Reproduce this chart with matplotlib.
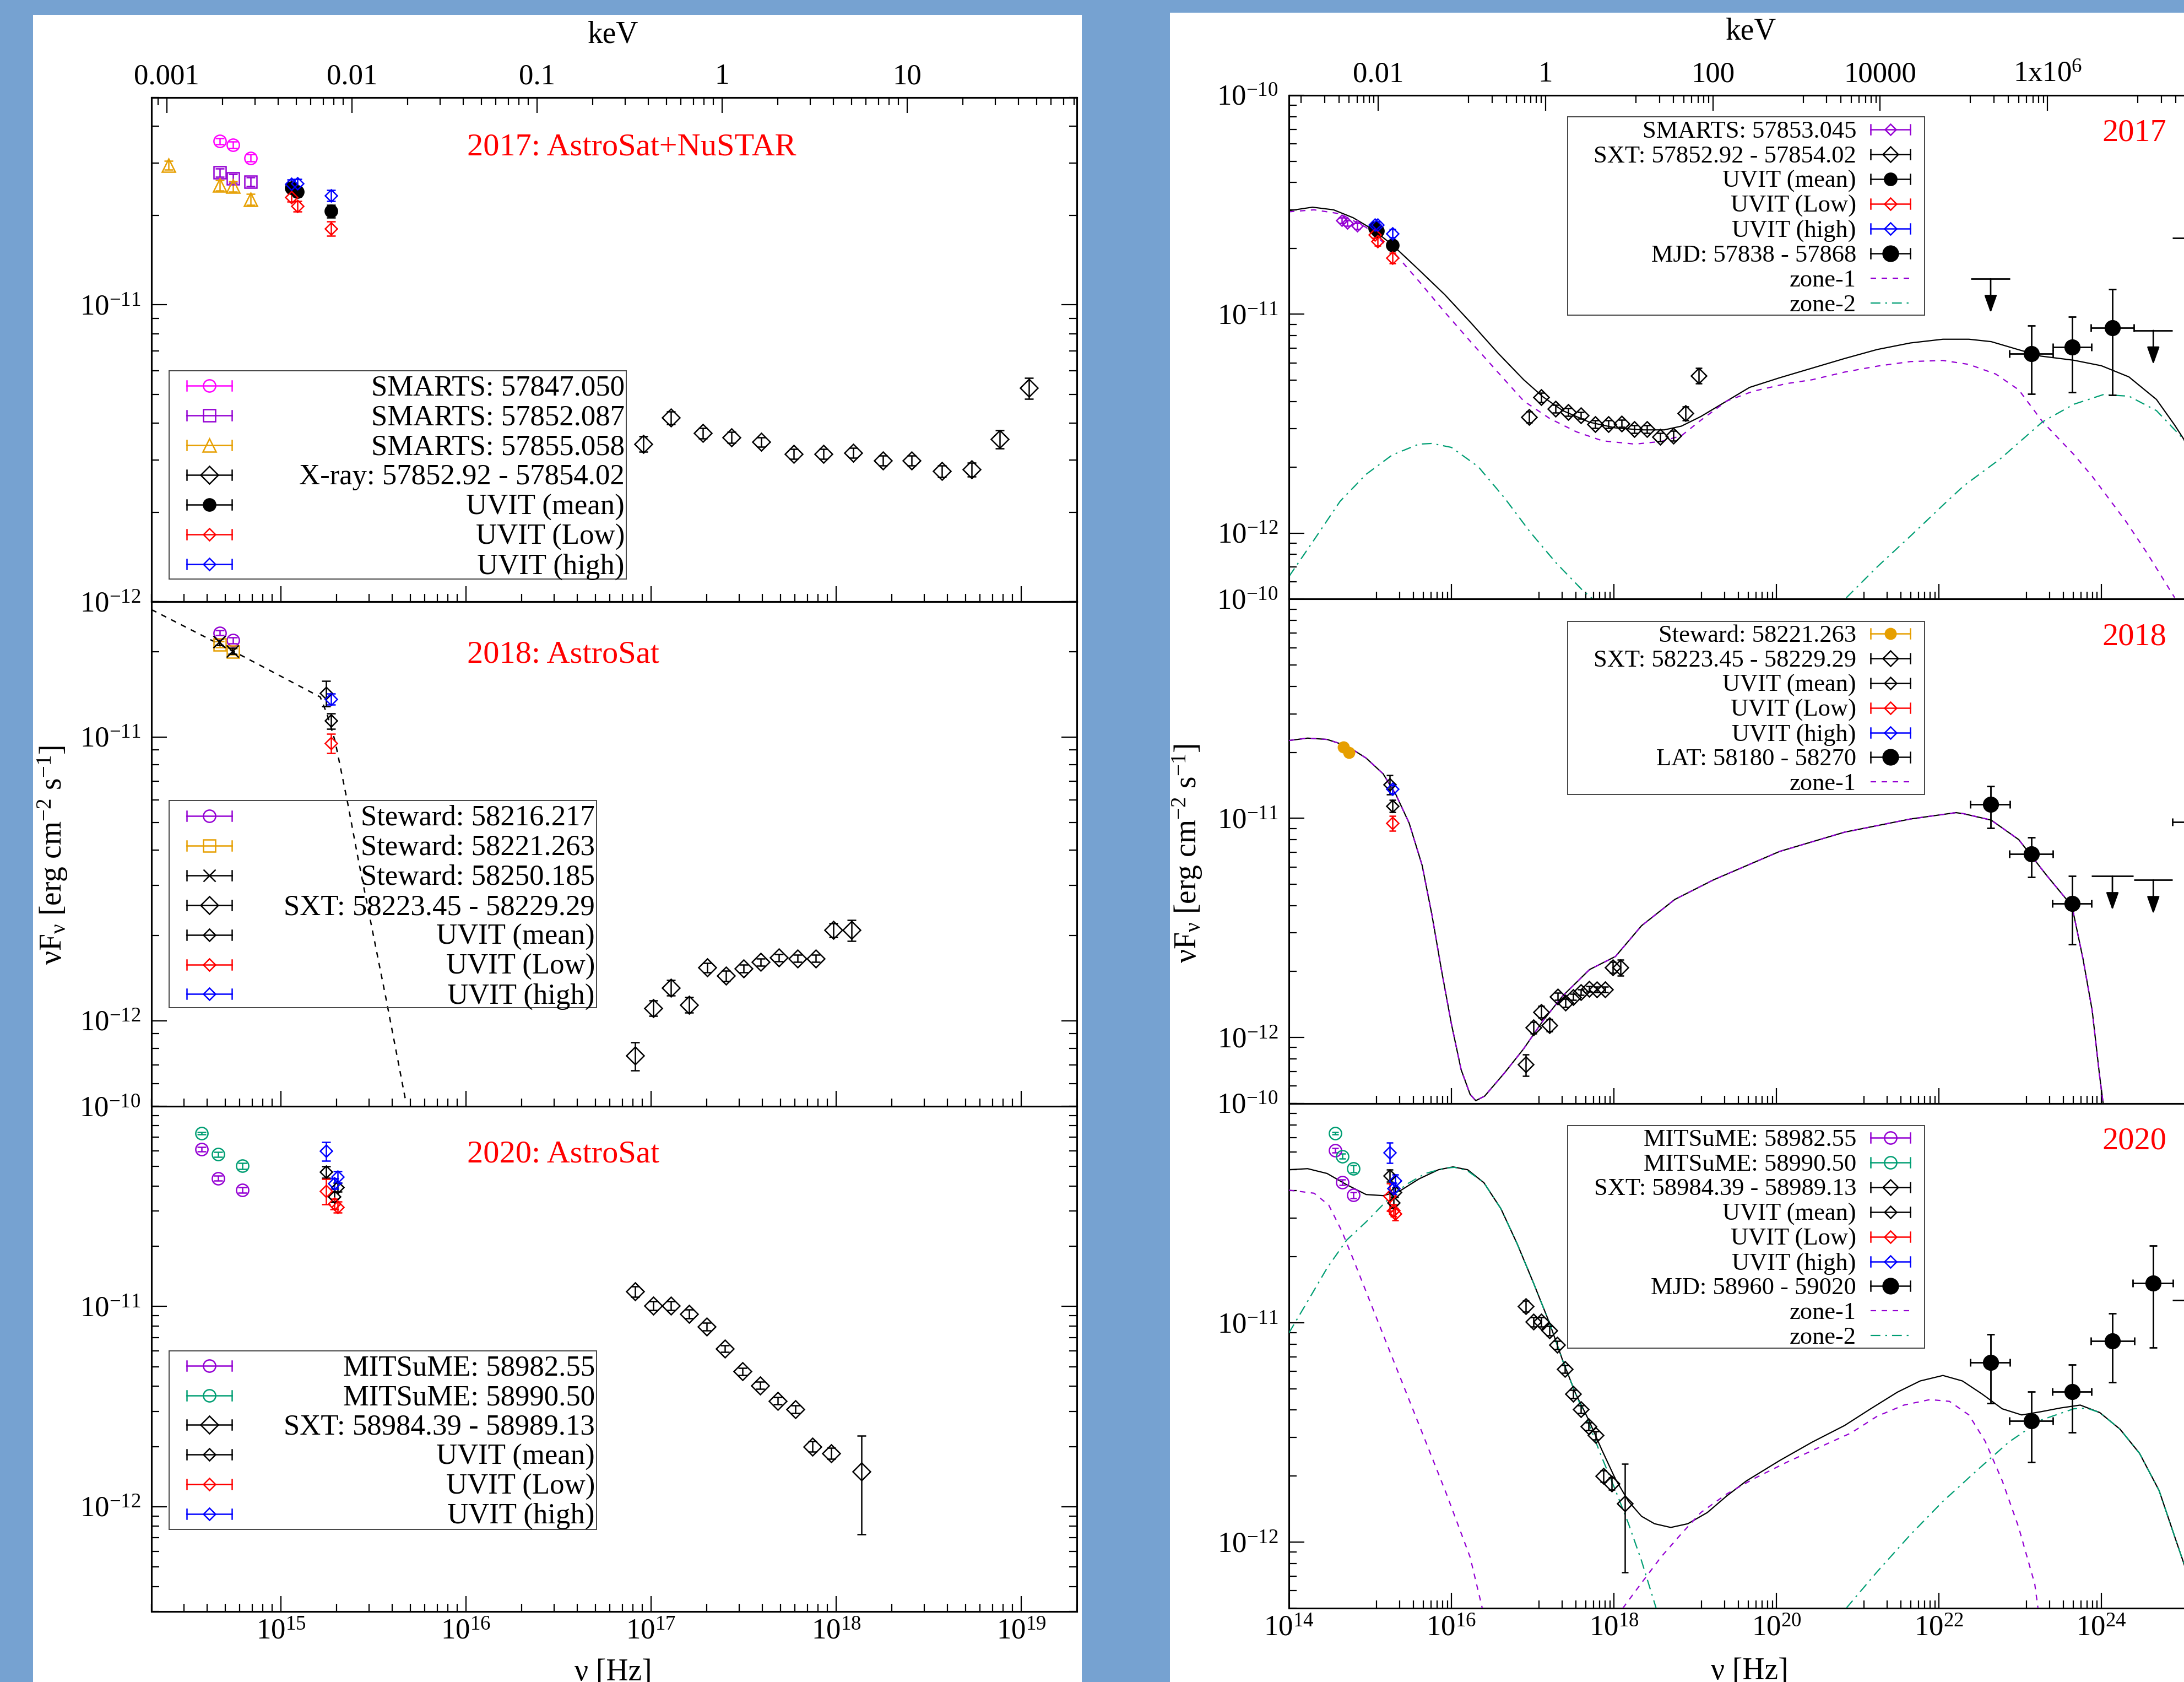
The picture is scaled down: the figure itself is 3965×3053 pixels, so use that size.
import numpy as np
import matplotlib
matplotlib.use('Agg')
import matplotlib.pyplot as plt
from matplotlib.patches import Rectangle
from matplotlib.ticker import (FixedLocator, FixedFormatter, LogLocator,
                               NullFormatter, LogFormatterMathtext)

plt.rcParams['font.family'] = ['Liberation Serif', 'DejaVu Serif']
plt.rcParams['mathtext.fontset'] = 'custom'
plt.rcParams['mathtext.rm'] = 'Liberation Serif'
plt.rcParams['mathtext.it'] = 'Liberation Serif:italic'
plt.rcParams['mathtext.default'] = 'regular'
plt.rcParams['axes.unicode_minus'] = False

W, H = 3965, 3053

# ------------------------------------------------------------ 2017 data
smarts47_nu = [4.69e14, 5.52e14, 6.85e14]
smarts47_f = [3.56e-11, 3.46e-11, 3.13e-11]
smarts47_e = [0.9e-12, 0.9e-12, 0.9e-12]
smarts52_nu = [4.69e14, 5.52e14, 6.85e14]
smarts52_f = [2.79e-11, 2.67e-11, 2.60e-11]
smarts52_e = [0.9e-12, 0.9e-12, 0.9e-12]
smarts55_nu = [2.47e14, 4.69e14, 5.52e14, 6.85e14]
smarts55_f = [2.96e-11, 2.53e-11, 2.51e-11, 2.27e-11]
smarts55_e = [1.0e-12, 1.0e-12, 1.0e-12, 1.0e-12]
smarts53_nu = [4.48e14, 5.23e14, 6.93e14]
smarts53_f = [2.69e-11, 2.61e-11, 2.53e-11]
smarts53_e = [0.8e-12, 0.8e-12, 0.8e-12]

xray17_nu = [9.10e16, 1.28e17, 1.91e17, 2.72e17, 3.95e17, 5.92e17, 8.53e17,
             1.24e18, 1.79e18, 2.56e18, 3.74e18, 5.40e18, 7.66e18, 1.10e19]
xray17_f = [3.40e-12, 4.17e-12, 3.70e-12, 3.58e-12, 3.45e-12, 3.15e-12, 3.15e-12,
            3.17e-12, 2.99e-12, 2.99e-12, 2.75e-12, 2.79e-12, 3.53e-12, 5.25e-12]
xray17_e = [0.20e-12, 0.20e-12, 0.15e-12, 0.15e-12, 0.12e-12, 0.12e-12, 0.12e-12,
            0.12e-12, 0.12e-12, 0.12e-12, 0.12e-12, 0.15e-12, 0.25e-12, 0.42e-12]

uvit17_nu = [1.14e15, 1.23e15, 1.87e15]
uvit17_high = [2.56e-11, 2.57e-11, 2.34e-11]
uvit17_mean = [2.48e-11, 2.41e-11, 2.07e-11]
uvit17_low = [2.31e-11, 2.15e-11, 1.81e-11]
uvit17_e = [0.8e-12, 0.9e-12, 1.0e-12]

lat17_nu = [1.371e23, 4.345e23, 1.368e24]
lat17_lo = [7.41e22, 2.518e23, 7.43e23]
lat17_hi = [2.518e23, 7.52e23, 2.52e24]
lat17_f = [6.62e-12, 7.08e-12, 8.66e-12]
lat17_flo = [4.34e-12, 4.41e-12, 4.27e-12]
lat17_fhi = [8.87e-12, 9.75e-12, 1.30e-11]
ul17_nu = [4.34e22, 4.36e24, 1.30e25]
ul17_lo = [2.48e22, 2.52e24, 7.53e24]
ul17_hi = [7.48e22, 7.53e24, 2.24e25]
ul17_f = [1.45e-11, 8.43e-12, 2.23e-11]

m17_tot_x = [14.0, 14.29, 14.55, 14.79, 15.03, 15.27, 15.60, 15.92, 16.25, 16.57, 16.89,
             17.13, 17.37, 17.70, 18.02, 18.34, 18.62, 18.83, 19.07, 19.39, 19.67, 20.04,
             20.44, 20.84, 21.24, 21.65, 22.05, 22.37, 22.644, 22.983, 23.254, 23.661,
             24.0, 24.339, 24.678, 24.902, 25.017, 25.2, 25.38]
m17_tot_y = [-10.527, -10.511, -10.523, -10.559, -10.612, -10.682, -10.797, -10.911,
             -11.043, -11.176, -11.299, -11.378, -11.440, -11.493, -11.519, -11.528,
             -11.528, -11.511, -11.467, -11.396, -11.334, -11.290, -11.246, -11.202,
             -11.161, -11.131, -11.114, -11.114, -11.125, -11.162, -11.191, -11.210,
             -11.235, -11.286, -11.389, -11.506, -11.572, -11.75, -12.0]
m17_z1_x = [14.0, 14.31, 14.63, 14.95, 15.27, 15.60, 15.92, 16.25, 16.57, 16.89, 17.21,
            17.54, 17.86, 18.26, 18.58, 18.83, 19.07, 19.39, 19.71, 20.12, 20.44, 20.84,
            21.24, 21.65, 22.05, 22.37, 22.70, 22.983, 23.277, 23.66, 23.887, 24.31,
            24.565, 24.902]
m17_z1_y = [-10.532, -10.523, -10.541, -10.603, -10.708, -10.849, -10.991, -11.131,
            -11.264, -11.396, -11.476, -11.537, -11.578, -11.593, -11.581, -11.555,
            -11.484, -11.396, -11.352, -11.317, -11.299, -11.264, -11.237, -11.216,
            -11.211, -11.229, -11.273, -11.345, -11.491, -11.640, -11.740, -11.950,
            -12.092, -12.294]
m17_z2a_x = [14.0, 14.31, 14.63, 14.95, 15.27, 15.60, 15.76, 16.0, 16.33, 16.65, 16.97,
             17.29, 17.61, 17.77]
m17_z2a_y = [-12.198, -12.030, -11.854, -11.731, -11.643, -11.593, -11.590, -11.608,
             -11.696, -11.837, -11.995, -12.136, -12.259, -12.31]
m17_z2b_x = [20.86, 21.24, 21.65, 22.05, 22.305, 22.757, 23.277, 23.661, 24.023, 24.339,
             24.678, 25.017, 25.2, 25.38]
m17_z2b_y = [-12.295, -12.154, -12.013, -11.872, -11.784, -11.660, -11.491, -11.411,
             -11.367, -11.374, -11.440, -11.572, -11.76, -12.03]

# ------------------------------------------------------------ 2018 data
stew16_nu = [4.69e14, 5.52e14]
stew16_f = [2.33e-11, 2.19e-11]
stew16_e = [0.5e-12, 0.5e-12]
stew21_nu = [4.69e14, 5.52e14]
stew21_f = [2.12e-11, 2.00e-11]
stew21_e = [0.5e-12, 0.5e-12]
stew50_nu = [4.65e14, 5.47e14]
stew50_f = [2.16e-11, 2.01e-11]
stew50_e = [0.5e-12, 0.5e-12]

xray18_nu = [8.20e16, 1.03e17, 1.28e17, 1.61e17, 2.02e17, 2.54e17, 3.16e17, 3.92e17,
             4.92e17, 6.18e17, 7.76e17, 9.64e17, 1.21e18]
xray18_f = [7.53e-13, 1.11e-12, 1.31e-12, 1.14e-12, 1.54e-12, 1.44e-12, 1.53e-12,
            1.61e-12, 1.67e-12, 1.66e-12, 1.66e-12, 2.09e-12, 2.09e-12]
xray18_e = [0.085e-12, 0.07e-12, 0.08e-12, 0.07e-12, 0.06e-12, 0.06e-12, 0.05e-12,
            0.05e-12, 0.05e-12, 0.05e-12, 0.05e-12, 0.12e-12, 0.18e-12]

uvit18_mean_nu = [1.75e15, 1.87e15]
uvit18_mean = [1.43e-11, 1.14e-11]
uvit18_mean_e = [1.45e-12, 0.7e-12]
uvit18_nu = [1.87e15]
uvit18_high = [1.36e-11]
uvit18_high_e = [0.6e-12]
uvit18_low = [9.53e-12]
uvit18_low_e = [0.75e-12]

pl18_x = [14.301, 14.797, 15.213, 15.25, 15.293, 15.361, 15.418, 15.494, 15.570, 15.676]
pl18_y = [-10.551, -10.716, -10.859, -10.92, -11.014, -11.232, -11.430, -11.679,
          -11.927, -12.287]

lat18_nu = [4.37e22, 1.371e23, 4.345e23, 1.30e25]
lat18_lo = [2.45e22, 7.41e22, 2.48e23, 7.53e24]
lat18_hi = [7.53e22, 2.535e23, 7.59e23, 2.24e25]
lat18_f = [1.16e-11, 6.86e-12, 4.09e-12, 9.6e-12]
lat18_flo = [9.04e-12, 5.41e-12, 2.67e-12, 6.5e-12]
lat18_fhi = [1.40e-11, 8.17e-12, 5.45e-12, 1.3e-11]
ul18_nu = [1.368e24, 4.36e24]
ul18_lo = [7.52e23, 2.52e24]
ul18_hi = [2.48e24, 7.53e24]
ul18_f = [5.45e-12, 5.23e-12]

m18_x = [14.0, 14.23, 14.47, 14.71, 14.95, 15.16, 15.32, 15.48, 15.64, 15.76, 15.88, 16.0,
         16.12, 16.23, 16.30, 16.41, 16.65, 16.89, 17.13, 17.37, 17.70, 18.02, 18.34,
         18.75, 19.23, 20.04, 20.84, 21.65, 22.21, 22.305, 22.644, 22.983, 23.322,
         23.638, 23.774, 23.887, 23.977, 24.023]
m18_y = [-10.645, -10.634, -10.640, -10.669, -10.725, -10.797, -10.894, -11.022, -11.215,
         -11.440, -11.697, -11.938, -12.147, -12.259, -12.288, -12.267, -12.163, -12.051,
         -11.922, -11.810, -11.690, -11.630, -11.490, -11.370, -11.280, -11.151, -11.063,
         -11.003, -10.974, -10.979, -11.008, -11.097, -11.258, -11.400, -11.641, -11.876,
         -12.170, -12.303]

# ------------------------------------------------------------ 2020 data
mits82_nu = [3.72e14, 4.57e14, 6.19e14]
mits82_f = [6.11e-11, 4.37e-11, 3.82e-11]
mits82_e = [1.5e-12, 1.2e-12, 1.2e-12]
mits90_nu = [3.72e14, 4.57e14, 6.19e14]
mits90_f = [7.33e-11, 5.75e-11, 5.04e-11]
mits90_e = [0.8e-12, 1.5e-12, 1.8e-12]

xray20_nu = [8.20e16, 1.03e17, 1.28e17, 1.61e17, 2.00e17, 2.51e17, 3.13e17, 3.89e17,
             4.84e17, 6.01e17, 7.48e17, 9.40e17, 1.37e18]
xray20_f = [1.19e-11, 1.01e-11, 1.01e-11, 9.2e-12, 7.93e-12, 6.16e-12, 4.74e-12,
            4.04e-12, 3.38e-12, 3.07e-12, 2.00e-12, 1.85e-12, 1.50e-12]
xray20_e = [0.7e-12, 0.5e-12, 0.5e-12, 0.45e-12, 0.35e-12, 0.25e-12, 0.2e-12, 0.17e-12,
            0.14e-12, 0.13e-12, 0.12e-12, 0.12e-12, 0.77e-12]

uvit20_nu = [1.75e15, 1.94e15, 2.03e15]
uvit20_high = [5.98e-11, 4.11e-11, 4.45e-11]
uvit20_high_e = [6.4e-12, 2.5e-12, 3.0e-12]
uvit20_mean = [4.70e-11, 3.53e-11, 3.94e-11]
uvit20_mean_e = [3.0e-12, 2.0e-12, 2.0e-12]
uvit20_low = [3.78e-11, 3.26e-11, 3.14e-11]
uvit20_low_e = [5.5e-12, 2.0e-12, 2.0e-12]

lat20_nu = [4.37e22, 1.371e23, 4.345e23, 1.368e24, 4.36e24]
lat20_lo = [2.45e22, 7.41e22, 2.48e23, 7.40e23, 2.45e24]
lat20_hi = [7.53e22, 2.535e23, 7.59e23, 2.55e24, 7.62e24]
lat20_f = [6.58e-12, 3.57e-12, 4.85e-12, 8.28e-12, 1.52e-11]
lat20_flo = [4.30e-12, 2.31e-12, 3.17e-12, 5.37e-12, 7.73e-12]
lat20_fhi = [8.85e-12, 4.85e-12, 6.44e-12, 1.107e-11, 2.25e-11]
ul20_nu = [1.30e25]
ul20_lo = [7.53e24]
ul20_hi = [2.24e25]
ul20_f = [1.27e-11]

m20_tot_x = [14.0, 14.23, 14.47, 14.71, 14.95, 15.16, 15.36, 15.60, 15.84, 16.02, 16.20,
             16.40, 16.61, 16.81, 17.01, 17.21, 17.37, 17.53, 17.69, 17.85, 18.02, 18.18,
             18.34, 18.50, 18.70, 18.91, 19.15, 19.39, 19.63, 20.04, 20.44, 20.84, 21.16,
             21.49, 21.77, 22.05, 22.29, 22.53, 22.78, 23.02, 23.26, 23.50, 23.74, 23.98,
             24.23, 24.47, 24.71, 24.91, 25.02, 25.2]
m20_tot_y = [-10.302, -10.297, -10.319, -10.370, -10.415, -10.420, -10.400, -10.344,
             -10.302, -10.289, -10.302, -10.361, -10.480, -10.640, -10.818, -11.003,
             -11.172, -11.324, -11.443, -11.578, -11.713, -11.814, -11.882, -11.916,
             -11.933, -11.916, -11.865, -11.789, -11.721, -11.628, -11.544, -11.468,
             -11.392, -11.316, -11.265, -11.240, -11.265, -11.324, -11.392, -11.420,
             -11.405, -11.388, -11.375, -11.409, -11.485, -11.595, -11.764, -11.983,
             -12.102, -12.35]
m20_z1a_x = [14.0, 14.31, 14.49, 14.65, 14.78, 15.07, 15.36, 15.65, 15.94, 16.23, 16.38]
m20_z1a_y = [-10.395, -10.409, -10.463, -10.581, -10.699, -10.970, -11.240, -11.510,
             -11.781, -12.068, -12.301]
m20_z1b_x = [18.11, 18.34, 18.58, 18.82, 19.07, 19.39, 19.71, 20.12, 20.52, 20.92, 21.24,
             21.57, 21.89, 22.13, 22.37, 22.57, 22.78, 22.98, 23.18, 23.22]
m20_z1b_y = [-12.301, -12.186, -12.068, -11.966, -11.865, -11.780, -11.713, -11.637,
             -11.569, -11.502, -11.426, -11.375, -11.350, -11.358, -11.420, -11.540,
             -11.720, -11.930, -12.190, -12.301]
m20_z2a_x = [14.0, 14.23, 14.47, 14.71, 14.95, 15.20, 15.44, 15.68, 15.92, 16.04, 16.20,
             16.40, 16.61, 16.81, 17.01, 17.21, 17.37, 17.53, 17.69, 17.85, 18.02, 18.18,
             18.34, 18.52]
m20_z2a_y = [-11.046, -10.902, -10.750, -10.623, -10.540, -10.445, -10.370, -10.319,
             -10.294, -10.291, -10.307, -10.361, -10.480, -10.640, -10.818, -11.003,
             -11.172, -11.324, -11.460, -11.612, -11.764, -11.916, -12.085, -12.301]
m20_z2b_x = [20.86, 21.24, 21.65, 22.05, 22.45, 22.86, 23.26, 23.66, 23.82, 23.98, 24.23,
             24.47, 24.71, 24.91, 25.02, 25.2]
m20_z2b_y = [-12.301, -12.135, -11.966, -11.814, -11.679, -11.544, -11.443, -11.392,
             -11.389, -11.409, -11.485, -11.595, -11.764, -11.983, -12.102, -12.35]

# ------------------------------------------------------------ styles
PURPLE = '#9400D3'
ORANGE = '#E69F00'
GREEN = '#009E73'
MAGENTA = '#FF00FF'
RED = '#FF0000'
BLUE = '#0000FF'

ST_MAG_O = dict(marker='o', c=MAGENTA, mfc='none', ms=16)
ST_PUR_S = dict(marker='s', c=PURPLE, mfc='none', ms=16)
ST_ORA_T = dict(marker='^', c=ORANGE, mfc='none', ms=17)
ST_PUR_O = dict(marker='o', c=PURPLE, mfc='none', ms=16)
ST_GRN_O = dict(marker='o', c=GREEN, mfc='none', ms=16)
ST_ORA_S = dict(marker='s', c=ORANGE, mfc='none', ms=16)
ST_BLK_X = dict(marker='x', c='k', mfc='none', ms=16)
ST_XRAY = dict(marker='D', c='k', mfc='none', ms=16)
ST_XRAY_R = dict(marker='D', c='k', mfc='none', ms=14)
ST_BLK_DOT = dict(marker='o', c='k', mfc='k', ms=16)
ST_BLK_D = dict(marker='D', c='k', mfc='none', ms=11)
ST_RED_D = dict(marker='D', c=RED, mfc='none', ms=11)
ST_BLU_D = dict(marker='D', c=BLUE, mfc='none', ms=11)
ST_PUR_D = dict(marker='D', c=PURPLE, mfc='none', ms=10)
ST_ORA_DOT = dict(marker='o', c=ORANGE, mfc=ORANGE, ms=14)
ST_LAT = dict(marker='o', c='k', mfc='k', ms=20)
LN_TOT = dict(color='k', lw=1.6, ls='-')
LN_Z1 = dict(color=PURPLE, lw=1.6, ls=(0, (4.5, 4.5)))
LN_Z2 = dict(color=GREEN, lw=1.6, ls=(0, (8, 4, 1.5, 4)))
LN_PL = dict(color='k', lw=1.8, ls=(0, (4, 4)))

# ------------------------------------------------------------ figure
fig = plt.figure(figsize=(W / 100, H / 100), dpi=100, facecolor='#76A2D1')
fig.add_artist(Rectangle((60 / W, 0), (1964 - 60) / W, 1 - 27 / H,
                         transform=fig.transFigure, fc='white', ec='none', zorder=-5))
fig.add_artist(Rectangle((2124 / W, 0), 1.0, 1 - 23 / H,
                         transform=fig.transFigure, fc='white', ec='none', zorder=-5))

AX = {}


def make_ax(xpx, ypx):
    ax = fig.add_axes([xpx[0] / W, 1 - ypx[1] / H, (xpx[1] - xpx[0]) / W,
                       (ypx[1] - ypx[0]) / H])
    AX[ax] = (xpx[0], ypx[0], xpx[1], ypx[1])
    return ax


def style_ax(ax, xlim, ylim, right, labels_bottom):
    ax.set_xscale('log')
    ax.set_yscale('log')
    ax.set_xlim(xlim)
    ax.set_ylim(ylim)
    if right:
        ax.xaxis.set_major_locator(FixedLocator(10.0 ** np.arange(14, 27, 2)))
        ax.xaxis.set_minor_locator(FixedLocator(
            [10.0 ** e * (1 + 11 * j) for e in range(12, 27, 2) for j in range(1, 9)]))
    else:
        ax.xaxis.set_major_locator(LogLocator(base=10, numticks=30))
        ax.xaxis.set_minor_locator(LogLocator(base=10, subs=np.arange(2, 10), numticks=30))
    ax.xaxis.set_major_formatter(LogFormatterMathtext())
    ax.xaxis.set_minor_formatter(NullFormatter())
    ax.yaxis.set_major_locator(LogLocator(base=10, numticks=30))
    ax.yaxis.set_minor_locator(LogLocator(base=10, subs=np.arange(2, 10), numticks=30))
    ax.yaxis.set_minor_formatter(NullFormatter())
    ax.tick_params(which='both', direction='in', top=False, bottom=True, left=True,
                   right=True, width=1.6, labelsize=38)
    ax.tick_params(which='major', length=20)
    ax.tick_params(which='minor', length=10)
    ax.tick_params(axis='y', pad=14)
    ax.tick_params(axis='x', pad=9)
    if not labels_bottom:
        ax.tick_params(labelbottom=False)
    for sp in ax.spines.values():
        sp.set_linewidth(2.2)


def top_kev(ax, lim, major, labels, minor):
    tw = ax.twiny()
    tw.set_xscale('log')
    tw.set_xlim(lim)
    tw.xaxis.set_major_locator(FixedLocator(major))
    tw.xaxis.set_major_formatter(FixedFormatter(labels))
    tw.xaxis.set_minor_locator(minor)
    tw.xaxis.set_minor_formatter(NullFormatter())
    tw.tick_params(which='both', direction='in', top=True, bottom=False, width=1.6,
                   labelsize=38, pad=10)
    tw.tick_params(which='major', length=20)
    tw.tick_params(which='minor', length=10)
    for sp in tw.spines.values():
        sp.set_linewidth(2.2)


def pts(ax, nu, f, err, st, cap=6):
    ax.errorbar(nu, f, yerr=err, fmt=st['marker'], color=st['c'], mfc=st['mfc'],
                mec=st['c'], ms=st['ms'], mew=1.8, elinewidth=1.8, capsize=cap,
                capthick=1.8, zorder=4)


def lat(ax, nu, lo, hi, f, flo, fhi):
    nu, lo, hi = np.array(nu), np.array(lo), np.array(hi)
    f, flo, fhi = np.array(f), np.array(flo), np.array(fhi)
    ax.errorbar(nu, f, xerr=[nu - lo, hi - nu], yerr=[f - flo, fhi - f], fmt='o',
                color='k', ms=ST_LAT['ms'], elinewidth=2.0, capsize=5, capthick=2.0,
                zorder=4)


def ulim(ax, nu, lo, hi, f, drop=0.70):
    ax.hlines(f, lo, hi, color='k', lw=2.0, zorder=4)
    for n, v in zip(nu, f):
        ax.annotate('', xy=(n, v * drop), xytext=(n, v), annotation_clip=False,
                    arrowprops=dict(arrowstyle='-|>,head_length=0.7,head_width=0.25',
                                    color='k', lw=2.0, mutation_scale=28,
                                    shrinkA=0, shrinkB=0), zorder=4)


def curve(ax, lx, ly, ln):
    ax.plot(10.0 ** np.array(lx), 10.0 ** np.array(ly), zorder=3, **ln)


def key(ax, box, row0, step, items, right_side, fs):
    x0a, y0a, x1a, y1a = AX[ax]

    def fx(X):
        return (X - x0a) / (x1a - x0a)

    def fy(Y):
        return (y1a - Y) / (y1a - y0a)

    X0, Y0, X1, Y1 = box
    ax.add_patch(Rectangle((fx(X0), fy(Y1)), fx(X1) - fx(X0), fy(Y0) - fy(Y1),
                           transform=ax.transAxes, fill=False, lw=1.4, ec='#444444',
                           clip_on=False, zorder=6))
    if right_side:
        xa, xb, xt = X1 - 98, X1 - 26, X1 - 124
    else:
        xa, xb, xt = X0 + 32, X0 + 114, X1 - 3
    xm = 0.5 * (xa + xb)
    cap = 9
    base = fs * 1.389 * 0.33
    for i, (label, st) in enumerate(items):
        Y = row0 + i * step
        ax.text(fx(xt), fy(Y + base), label, ha='right', va='baseline', fontsize=fs,
                transform=ax.transAxes, zorder=6)
        if 'ls' in st:
            ax.plot([fx(xa), fx(xb)], [fy(Y), fy(Y)], transform=ax.transAxes,
                    clip_on=False, zorder=6, **st)
            continue
        kw = dict(color=st['c'], lw=1.8, transform=ax.transAxes, clip_on=False, zorder=6)
        ax.plot([fx(xa), fx(xb)], [fy(Y), fy(Y)], **kw)
        ax.plot([fx(xa), fx(xa)], [fy(Y - cap), fy(Y + cap)], **kw)
        ax.plot([fx(xb), fx(xb)], [fy(Y - cap), fy(Y + cap)], **kw)
        ax.plot([fx(xm)], [fy(Y)], marker=st['marker'], color=st['c'], mfc=st['mfc'],
                mec=st['c'], ms=st['ms'], mew=1.8, transform=ax.transAxes,
                clip_on=False, zorder=7)


def title(ax, X, Y, s):
    x0a, y0a, x1a, y1a = AX[ax]
    ax.text((X - x0a) / (x1a - x0a), (y1a - Y) / (y1a - y0a), s, color='red',
            fontsize=42, ha='left', va='baseline', transform=ax.transAxes, zorder=6)


LX = (275, 1955)
LROWS = [(177, 1092), (1092, 2008), (2008, 2925)]
RX = (2340, 4018)
RROWS = [(173, 1087.5), (1087.5, 2003), (2003, 2919)]
LXLIM = (2e14, 2e19)
RXLIM = (1e14, 2.38e25)

# ------------------------------------------------------------ left column
a1 = make_ax(LX, LROWS[0])
style_ax(a1, LXLIM, (1e-12, 5e-11), False, False)
top_kev(a1, (LXLIM[0] / 2.418e17, LXLIM[1] / 2.418e17), [1e-3, 1e-2, 1e-1, 1, 10],
        ['0.001', '0.01', '0.1', '1', '10'],
        LogLocator(base=10, subs=np.arange(2, 10), numticks=30))
pts(a1, smarts47_nu, smarts47_f, smarts47_e, ST_MAG_O)
pts(a1, smarts52_nu, smarts52_f, smarts52_e, ST_PUR_S)
pts(a1, smarts55_nu, smarts55_f, smarts55_e, ST_ORA_T)
pts(a1, xray17_nu, xray17_f, xray17_e, ST_XRAY)
pts(a1, uvit17_nu, uvit17_mean, uvit17_e, ST_BLK_DOT)
pts(a1, uvit17_nu, uvit17_low, uvit17_e, ST_RED_D)
pts(a1, uvit17_nu, uvit17_high, uvit17_e, ST_BLU_D)
title(a1, 848, 281, '2017: AstroSat+NuSTAR')
key(a1, (307, 673, 1137, 1051), 700, 54,
    [('SMARTS: 57847.050', ST_MAG_O), ('SMARTS: 57852.087', ST_PUR_S),
     ('SMARTS: 57855.058', ST_ORA_T), ('X-ray: 57852.92 - 57854.02', ST_XRAY),
     ('UVIT (mean)', ST_BLK_DOT), ('UVIT (Low)', ST_RED_D), ('UVIT (high)', ST_BLU_D)],
    False, 38)

a2 = make_ax(LX, LROWS[1])
style_ax(a2, LXLIM, (5e-13, 3e-11), False, False)
curve(a2, pl18_x, pl18_y, LN_PL)
pts(a2, stew16_nu, stew16_f, stew16_e, ST_PUR_O)
pts(a2, stew21_nu, stew21_f, stew21_e, ST_ORA_S)
pts(a2, stew50_nu, stew50_f, stew50_e, ST_BLK_X)
pts(a2, xray18_nu, xray18_f, xray18_e, ST_XRAY)
pts(a2, uvit18_mean_nu, uvit18_mean, uvit18_mean_e, ST_BLK_D)
pts(a2, uvit18_nu, uvit18_low, uvit18_low_e, ST_RED_D)
pts(a2, uvit18_nu, uvit18_high, uvit18_high_e, ST_BLU_D)
title(a2, 848, 1203, '2018: AstroSat')
key(a2, (307, 1453, 1083, 1829), 1481, 53.9,
    [('Steward: 58216.217', ST_PUR_O), ('Steward: 58221.263', ST_ORA_S),
     ('Steward: 58250.185', ST_BLK_X), ('SXT: 58223.45 - 58229.29', ST_XRAY),
     ('UVIT (mean)', ST_BLK_D), ('UVIT (Low)', ST_RED_D), ('UVIT (high)', ST_BLU_D)],
    False, 38)

a3 = make_ax(LX, LROWS[2])
style_ax(a3, LXLIM, (3e-13, 1e-10), False, True)
pts(a3, mits82_nu, mits82_f, mits82_e, ST_PUR_O)
pts(a3, mits90_nu, mits90_f, mits90_e, ST_GRN_O)
pts(a3, xray20_nu, xray20_f, xray20_e, ST_XRAY)
pts(a3, uvit20_nu, uvit20_mean, uvit20_mean_e, ST_BLK_D)
pts(a3, uvit20_nu, uvit20_low, uvit20_low_e, ST_RED_D)
pts(a3, uvit20_nu, uvit20_high, uvit20_high_e, ST_BLU_D)
title(a3, 848, 2109, '2020: AstroSat')
key(a3, (307, 2452, 1083, 2776), 2479, 53.7,
    [('MITSuME: 58982.55', ST_PUR_O), ('MITSuME: 58990.50', ST_GRN_O),
     ('SXT: 58984.39 - 58989.13', ST_XRAY), ('UVIT (mean)', ST_BLK_D),
     ('UVIT (Low)', ST_RED_D), ('UVIT (high)', ST_BLU_D)],
    False, 38)

# ------------------------------------------------------------ right column
b1 = make_ax(RX, RROWS[0])
style_ax(b1, RXLIM, (5e-13, 1e-10), True, False)
top_kev(b1, (8.59e-4, 9.55e7), [1e-2, 1, 1e2, 1e4, 1e6],
        ['0.01', '1', '100', '10000', '1x10$^{6}$'],
        FixedLocator([10.0 ** e * (1 + 11 * j) for e in range(-4, 9, 2)
                      for j in range(1, 9)]))
curve(b1, m17_tot_x, m17_tot_y, LN_TOT)
curve(b1, m17_z1_x, m17_z1_y, LN_Z1)
curve(b1, m17_z2a_x, m17_z2a_y, LN_Z2)
curve(b1, m17_z2b_x, m17_z2b_y, LN_Z2)
pts(b1, smarts53_nu, smarts53_f, smarts53_e, ST_PUR_D, cap=4)
pts(b1, xray17_nu, xray17_f, xray17_e, ST_XRAY_R, cap=4)
pts(b1, uvit17_nu, uvit17_mean, uvit17_e, ST_BLK_DOT, cap=4)
pts(b1, uvit17_nu, uvit17_low, uvit17_e, ST_RED_D, cap=4)
pts(b1, uvit17_nu, uvit17_high, uvit17_e, ST_BLU_D, cap=4)
lat(b1, lat17_nu, lat17_lo, lat17_hi, lat17_f, lat17_flo, lat17_fhi)
ulim(b1, ul17_nu, ul17_lo, ul17_hi, ul17_f)
title(b1, 3816, 256, '2017')
key(b1, (2846, 212, 3494, 572), 235, 45,
    [('SMARTS: 57853.045', ST_PUR_D), ('SXT: 57852.92 - 57854.02', ST_XRAY_R),
     ('UVIT (mean)', ST_BLK_DOT), ('UVIT (Low)', ST_RED_D), ('UVIT (high)', ST_BLU_D),
     ('MJD: 57838 - 57868', ST_LAT), ('zone-1', LN_Z1), ('zone-2', LN_Z2)],
    True, 32)

b2 = make_ax(RX, RROWS[1])
style_ax(b2, RXLIM, (5e-13, 1e-10), True, False)
curve(b2, m18_x, m18_y, LN_TOT)
curve(b2, m18_x, m18_y, LN_Z1)
pts(b2, stew21_nu, stew21_f, stew21_e, ST_ORA_DOT, cap=4)
pts(b2, xray18_nu, xray18_f, xray18_e, ST_XRAY_R, cap=4)
pts(b2, uvit18_mean_nu, uvit18_mean, uvit18_mean_e, ST_BLK_D, cap=4)
pts(b2, uvit18_nu, uvit18_low, uvit18_low_e, ST_RED_D, cap=4)
pts(b2, uvit18_nu, uvit18_high, uvit18_high_e, ST_BLU_D, cap=4)
lat(b2, lat18_nu, lat18_lo, lat18_hi, lat18_f, lat18_flo, lat18_fhi)
ulim(b2, ul18_nu, ul18_lo, ul18_hi, ul18_f)
title(b2, 3816, 1171, '2018')
key(b2, (2846, 1128, 3494, 1442), 1150, 44.9,
    [('Steward: 58221.263', ST_ORA_DOT), ('SXT: 58223.45 - 58229.29', ST_XRAY_R),
     ('UVIT (mean)', ST_BLK_D), ('UVIT (Low)', ST_RED_D), ('UVIT (high)', ST_BLU_D),
     ('LAT: 58180 - 58270', ST_LAT), ('zone-1', LN_Z1)],
    True, 32)

b3 = make_ax(RX, RROWS[2])
style_ax(b3, RXLIM, (5e-13, 1e-10), True, True)
curve(b3, m20_tot_x, m20_tot_y, LN_TOT)
curve(b3, m20_z1a_x, m20_z1a_y, LN_Z1)
curve(b3, m20_z1b_x, m20_z1b_y, LN_Z1)
curve(b3, m20_z2a_x, m20_z2a_y, LN_Z2)
curve(b3, m20_z2b_x, m20_z2b_y, LN_Z2)
pts(b3, mits82_nu, mits82_f, mits82_e, ST_PUR_O, cap=4)
pts(b3, mits90_nu, mits90_f, mits90_e, ST_GRN_O, cap=4)
pts(b3, xray20_nu, xray20_f, xray20_e, ST_XRAY_R, cap=4)
pts(b3, uvit20_nu, uvit20_mean, uvit20_mean_e, ST_BLK_D, cap=4)
pts(b3, uvit20_nu, uvit20_low, uvit20_low_e, ST_RED_D, cap=4)
pts(b3, uvit20_nu, uvit20_high, uvit20_high_e, ST_BLU_D, cap=4)
lat(b3, lat20_nu, lat20_lo, lat20_hi, lat20_f, lat20_flo, lat20_fhi)
ulim(b3, ul20_nu, ul20_lo, ul20_hi, ul20_f)
title(b3, 3816, 2085, '2020')
key(b3, (2846, 2043, 3494, 2447), 2065, 44.9,
    [('MITSuME: 58982.55', ST_PUR_O), ('MITSuME: 58990.50', ST_GRN_O),
     ('SXT: 58984.39 - 58989.13', ST_XRAY_R), ('UVIT (mean)', ST_BLK_D),
     ('UVIT (Low)', ST_RED_D), ('UVIT (high)', ST_BLU_D),
     ('MJD: 58960 - 59020', ST_LAT), ('zone-1', LN_Z1), ('zone-2', LN_Z2)],
    True, 32)

# ------------------------------------------------------------ axis labels
ylab = 'νF$_{ν}$ [erg cm$^{-2}$ s$^{-1}$]'
fig.text(96 / W, 1 - 1552 / H, ylab, rotation=90, ha='center', va='center', fontsize=40)
fig.text(2156 / W, 1 - 1549 / H, ylab, rotation=90, ha='center', va='center', fontsize=40)
fig.text(1113 / W, 1 - 77 / H, 'keV', ha='center', va='baseline', fontsize=40)
fig.text(3179 / W, 1 - 72 / H, 'keV', ha='center', va='baseline', fontsize=40)
fig.text(1113 / W, 1 - 3010 / H, 'ν [Hz]', ha='center', va='top', fontsize=40)
fig.text(3176 / W, 1 - 3008 / H, 'ν [Hz]', ha='center', va='top', fontsize=40)

fig.savefig('out.png', dpi=100, facecolor=fig.get_facecolor())
